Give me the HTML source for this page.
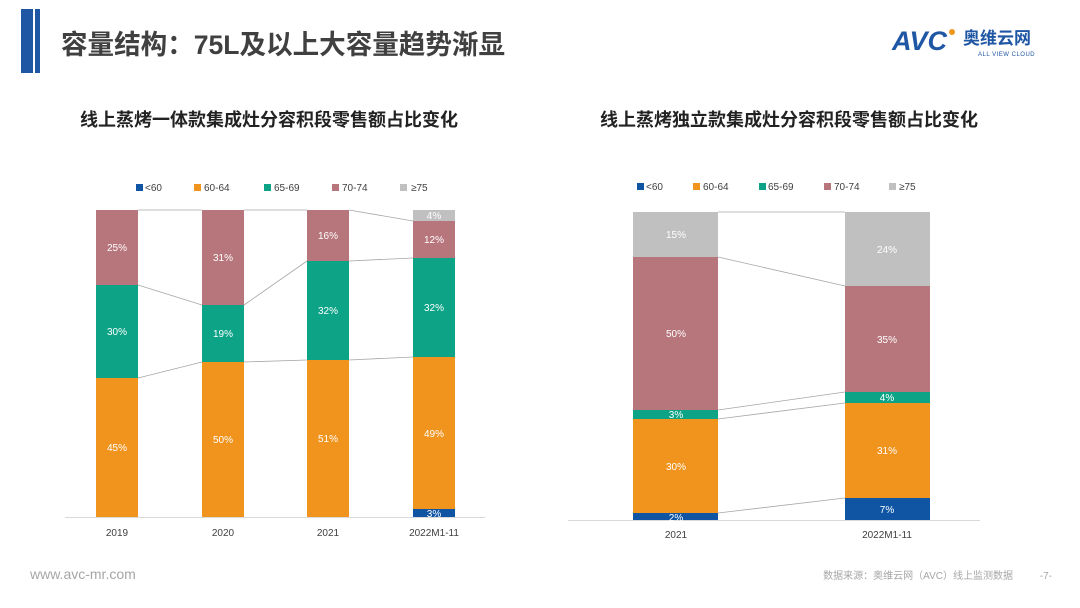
<!DOCTYPE html>
<html><head><meta charset="utf-8"><style>
html,body{margin:0;padding:0;background:#fff;}
body{width:1080px;height:608px;overflow:hidden;position:relative;font-family:"Liberation Sans","Noto Sans CJK SC",sans-serif;}
</style></head><body>
<svg width="1080" height="608" xmlns="http://www.w3.org/2000/svg" style="position:absolute;left:0;top:0;font-family:'Liberation Sans','Noto Sans CJK SC',sans-serif">
<!-- header -->
<rect x="21" y="9" width="12" height="64" fill="#1f57a4"/>
<rect x="35" y="9" width="5" height="64" fill="#1f57a4"/>
<text x="61" y="54" font-size="27" font-weight="bold" fill="#404040" textLength="444" lengthAdjust="spacingAndGlyphs">容量结构：75L及以上大容量趋势渐显</text>
<!-- logo -->
<text x="892" y="50" font-size="27" font-weight="bold" font-style="italic" fill="#1f57a4">AVC</text>
<circle cx="952" cy="32" r="3" fill="#f0961e"/>
<text x="963" y="44" font-size="17" font-weight="bold" fill="#1f57a4">奥维云网</text>
<text x="978" y="56" font-size="6" fill="#1f57a4" letter-spacing="0.5">ALL VIEW CLOUD</text>
<!-- titles -->
<text x="80" y="126" font-size="18" font-weight="bold" fill="#222" textLength="378" lengthAdjust="spacingAndGlyphs">线上蒸烤一体款集成灶分容积段零售额占比变化</text>
<text x="600" y="126" font-size="18" font-weight="bold" fill="#222" textLength="378" lengthAdjust="spacingAndGlyphs">线上蒸烤独立款集成灶分容积段零售额占比变化</text>

<g font-size="10" fill="#404040">
<rect x="136" y="184" width="7" height="7" fill="#0f55a3"/><text x="145" y="191">&lt;60</text>
<rect x="194" y="184" width="7" height="7" fill="#f0941e"/><text x="204" y="191">60-64</text>
<rect x="264" y="184" width="7" height="7" fill="#0ca386"/><text x="274" y="191">65-69</text>
<rect x="332" y="184" width="7" height="7" fill="#b7767c"/><text x="342" y="191">70-74</text>
<rect x="400" y="184" width="7" height="7" fill="#c0c0c0"/><text x="411" y="191">≥75</text>
<rect x="637" y="183" width="7" height="7" fill="#0f55a3"/><text x="646" y="190">&lt;60</text>
<rect x="693" y="183" width="7" height="7" fill="#f0941e"/><text x="703" y="190">60-64</text>
<rect x="759" y="183" width="7" height="7" fill="#0ca386"/><text x="768" y="190">65-69</text>
<rect x="824" y="183" width="7" height="7" fill="#b7767c"/><text x="834" y="190">70-74</text>
<rect x="889" y="183" width="7" height="7" fill="#c0c0c0"/><text x="899" y="190">≥75</text>
</g>

<line x1="65" y1="517.5" x2="485" y2="517.5" stroke="#d9d9d9" stroke-width="1"/>
<g stroke="#a6a6a6" stroke-width="0.8">
<line x1="138" y1="210" x2="202" y2="210"/><line x1="244" y1="210" x2="307" y2="210"/><line x1="349" y1="210" x2="413" y2="221"/>
<line x1="138" y1="285" x2="202" y2="305"/><line x1="244" y1="305" x2="307" y2="261"/><line x1="349" y1="261" x2="413" y2="258"/>
<line x1="138" y1="378" x2="202" y2="362"/><line x1="244" y1="362" x2="307" y2="360"/><line x1="349" y1="360" x2="413" y2="357"/>
</g>
<g>
<rect x="96" y="210" width="42" height="75" fill="#b7767c"/><rect x="96" y="285" width="42" height="93" fill="#0ca386"/><rect x="96" y="378" width="42" height="139" fill="#f0941e"/>
<rect x="202" y="210" width="42" height="95" fill="#b7767c"/><rect x="202" y="305" width="42" height="57" fill="#0ca386"/><rect x="202" y="362" width="42" height="155" fill="#f0941e"/>
<rect x="307" y="210" width="42" height="51" fill="#b7767c"/><rect x="307" y="261" width="42" height="99" fill="#0ca386"/><rect x="307" y="360" width="42" height="157" fill="#f0941e"/>
<rect x="413" y="210" width="42" height="11" fill="#c0c0c0"/><rect x="413" y="221" width="42" height="37" fill="#b7767c"/><rect x="413" y="258" width="42" height="99" fill="#0ca386"/><rect x="413" y="357" width="42" height="152" fill="#f0941e"/><rect x="413" y="509" width="42" height="8" fill="#0f55a3"/>
</g>
<g font-size="10" fill="#fff" text-anchor="middle">
<text x="117" y="251">25%</text><text x="117" y="335">30%</text><text x="117" y="451">45%</text>
<text x="223" y="261">31%</text><text x="223" y="337">19%</text><text x="223" y="443">50%</text>
<text x="328" y="239">16%</text><text x="328" y="314">32%</text><text x="328" y="442">51%</text>
<text x="434" y="219">4%</text><text x="434" y="243">12%</text><text x="434" y="311">32%</text><text x="434" y="437">49%</text><text x="434" y="517">3%</text>
</g>
<g font-size="10" fill="#404040" text-anchor="middle">
<text x="117" y="536">2019</text><text x="223" y="536">2020</text><text x="328" y="536">2021</text><text x="434" y="536">2022M1-11</text>
</g>

<line x1="568" y1="520.5" x2="980" y2="520.5" stroke="#d9d9d9" stroke-width="1"/>
<g stroke="#a6a6a6" stroke-width="0.8">
<line x1="718" y1="212" x2="845" y2="212"/><line x1="718" y1="257" x2="845" y2="286"/>
<line x1="718" y1="410" x2="845" y2="392"/><line x1="718" y1="419" x2="845" y2="403"/><line x1="718" y1="513" x2="845" y2="498"/>
</g>
<rect x="633" y="212" width="85" height="45" fill="#c0c0c0"/><rect x="633" y="257" width="85" height="153" fill="#b7767c"/><rect x="633" y="410" width="85" height="9" fill="#0ca386"/><rect x="633" y="419" width="85" height="94" fill="#f0941e"/><rect x="633" y="513" width="85" height="7" fill="#0f55a3"/>
<rect x="845" y="212" width="85" height="74" fill="#c0c0c0"/><rect x="845" y="286" width="85" height="106" fill="#b7767c"/><rect x="845" y="392" width="85" height="11" fill="#0ca386"/><rect x="845" y="403" width="85" height="95" fill="#f0941e"/><rect x="845" y="498" width="85" height="22" fill="#0f55a3"/>
<g font-size="10" fill="#fff" text-anchor="middle">
<text x="676" y="238">15%</text><text x="676" y="337">50%</text><text x="676" y="418">3%</text><text x="676" y="470">30%</text><text x="676" y="521">2%</text>
<text x="887" y="253">24%</text><text x="887" y="343">35%</text><text x="887" y="401">4%</text><text x="887" y="454">31%</text><text x="887" y="513">7%</text>
</g>
<g font-size="10" fill="#404040" text-anchor="middle">
<text x="676" y="538">2021</text><text x="887" y="538">2022M1-11</text>
</g>

<text x="30" y="579" font-size="14" fill="#a6a6a6">www.avc-mr.com</text>
<text x="1013" y="579" font-size="10" fill="#a6a6a6" text-anchor="end">数据来源：奥维云网（AVC）线上监测数据</text>
<text x="1052" y="579" font-size="10" fill="#a6a6a6" text-anchor="end">-7-</text>
</svg>
</body></html>
